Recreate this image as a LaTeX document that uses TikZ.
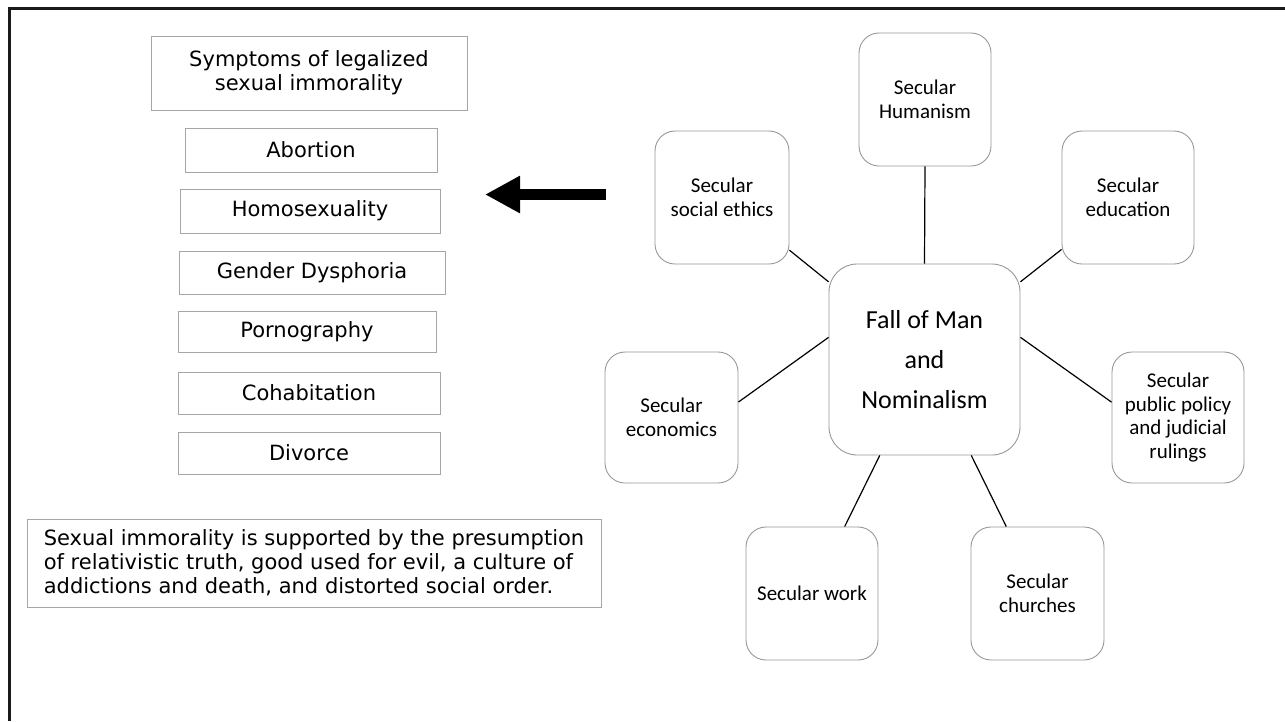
\documentclass[tikz,border=0pt]{standalone}
\usepackage{fontspec}
\setmainfont{DejaVu Sans}
\newfontfamily\calibrifont{Carlito}
\usepackage{tikz}
\usetikzlibrary{arrows.meta}
\definecolor{framegray}{HTML}{1A1A1A}
\definecolor{boxgray}{HTML}{A6A6A6}
\definecolor{roundgray}{HTML}{979797}

\begin{document}
\begin{tikzpicture}[x=1pt,y=-1pt,
 symptom/.style={draw=boxgray,line width=0.9pt,inner sep=0pt,align=center,font=\fontsize{21}{24}\selectfont},
 secular/.style={draw=roundgray,line width=0.9pt,rounded corners=20pt,inner sep=0pt,align=center,
   minimum width=133pt,minimum height=133pt,font=\calibrifont\fontsize{21}{23.5}\selectfont},
 hub/.style={draw=roundgray,line width=0.9pt,rounded corners=28pt,inner sep=0pt,align=center,
   minimum width=191pt,minimum height=191pt,font=\calibrifont\fontsize{26}{40}\selectfont},
 spoke/.style={draw=black,line width=1.2pt},
 bigarrow/.style={draw=black,line width=11pt,-{Triangle[length=35pt,width=35pt]}}]
\useasboundingbox (0,0) rectangle (1285,721);

% frame: only the top and left edges are drawn
\draw[framegray,line width=3pt] (9,721) -- (9,8) -- (1285,8);

% symptoms column
\node[symptom,minimum width=316pt,minimum height=74pt] (title) at (309,73) {Symptoms of legalized\\sexual immorality};
\node[symptom,minimum width=252pt,minimum height=44pt] (abortion) at (311,150) {Abortion};
\node[symptom,minimum width=260pt,minimum height=44pt] (homosex) at (310,211) {Homosexuality};
\node[symptom,minimum width=266pt,minimum height=43pt] (gender) at (312,272.5) {Gender Dysphoria};
\node[symptom,minimum width=258pt,minimum height=41pt] (porn) at (307,331.5) {Pornography};
\node[symptom,minimum width=262pt,minimum height=42pt] (cohab) at (309,393) {Cohabitation};
\node[symptom,minimum width=262pt,minimum height=42pt] (divorce) at (309,453) {Divorce};
\node[symptom,minimum width=574pt,minimum height=88pt,align=left] (support) at (314,563)
 {Sexual immorality is supported by the presumption\\of relativistic truth, good used for evil, a culture of\\addictions and death, and distorted social order.};

% arrow from the hub side to the symptoms
\coordinate (arrowtail) at (606,194.5);
\coordinate (arrowtip) at (485,194.5);
\draw[bigarrow] (arrowtail) -- (arrowtip);

% hub and its secular spokes
\node[hub] (fall) at (924.5,359.5) {Fall of Man\\and\\Nominalism};
\node[secular,minimum width=132pt] (humanism) at (925,99.5) {Secular\\Humanism};
\node[secular,minimum width=134pt] (ethics) at (722,197.5) {Secular\\social ethics};
\node[secular,minimum width=132pt] (education) at (1128,197.5) {Secular\\education};
\node[secular,minimum height=131pt] (economics) at (671.5,417.5) {Secular\\economics};
\node[secular,minimum width=132pt,minimum height=131pt] (policy) at (1178,417.5) {Secular\\public policy\\and judicial\\rulings};
\node[secular,minimum width=132pt] (work) at (812,593.5) {Secular work};
\node[secular] (churches) at (1037.5,593.5) {Secular\\churches};

\draw[spoke] (humanism.south) -- (fall.north);
\draw[spoke] (ethics.-38) -- (fall.141);
\draw[spoke] (education.218) -- (fall.39);
\draw[spoke] (economics.13) -- (fall.167);
\draw[spoke] (policy.167) -- (fall.13);
\draw[spoke] (work.64) -- (fall.245);
\draw[spoke] (churches.115) -- (fall.-64);
\end{tikzpicture}
\end{document}
